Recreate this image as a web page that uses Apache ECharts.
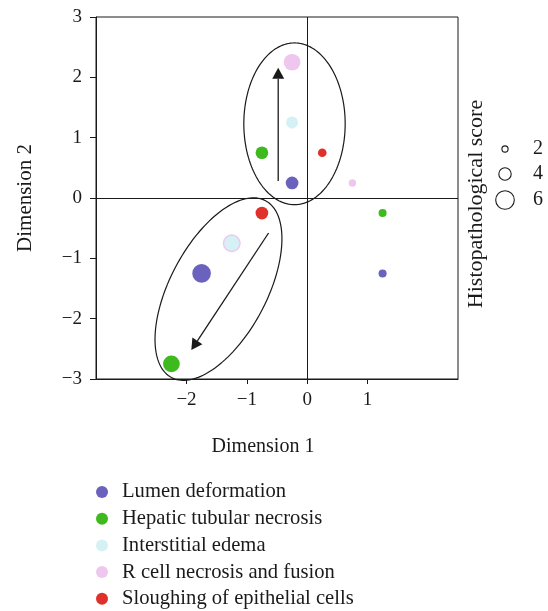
<!DOCTYPE html>
<html><head><meta charset="utf-8">
<script src="https://cdn.jsdelivr.net/npm/echarts@6/dist/echarts.min.js"></script>
<style>html,body{margin:0;padding:0;background:#fff}#c{width:548px;height:611px}</style>
</head><body><div id="c"></div>
<script>
// ---- data ----
const seriesNames = ['Lumen deformation','Hepatic tubular necrosis','Interstitial edema','R cell necrosis and fusion','Sloughing of epithelial cells'];
const seriesColors = ['#6a62bc','#3eb91e','#d6f1f5','#efc7ee','#e0302b'];
// [dimension1, dimension2, histopathological score]
const lumen     = [[-0.25, 0.25, 4.1], [-1.75, -1.25, 6.0], [1.25, -1.25, 2.6]];
const hepatic   = [[-0.75, 0.75, 4.1], [-2.25, -2.75, 5.4], [1.25, -0.25, 2.6]];
const edema     = [[-0.25, 1.25, 3.9], [-1.25, -0.75, 4.9]];
const rcell     = [[-0.25, 2.25, 5.4], [0.75, 0.25, 2.4], [-1.25, -0.75, 5.8]];
const sloughing = [[0.25, 0.75, 2.8], [-0.75, -0.25, 4.1]];
const xTicks = [-2, -1, 0, 1];
const yTicks = [-3, -2, -1, 0, 1, 2, 3];
const sizeLegendScores = [2, 4, 6];
// [centerX, centerY, semiAxisA, semiAxisB, angleDeg]
const clusterEllipses = [[-0.21, 1.23, 0.84, 1.34, 0], [-1.47, -1.51, 1.66, 0.80, 62]];
// [fromX, fromY, toX, toY]
const trendArrows = [[-0.48, 0.28, -0.48, 2.16], [-0.64, -0.58, -1.92, -2.52]];

// ---- chart ----
const FONT = '"Liberation Serif", "Times New Roman", serif';
const INK = '#1a1a1a';
const sizeFn = s => s * 3.1;
const fmt = v => String(v).replace('-', '\u2212');

function renderEllipse(params, api) {
  const cx = api.value(0), cy = api.value(1), a = api.value(2), b = api.value(3), ang = api.value(4) * Math.PI / 180;
  const pts = [];
  for (let i = 0; i < 160; i++) {
    const t = i / 160 * 2 * Math.PI;
    const ex = a * Math.cos(t), ey = b * Math.sin(t);
    pts.push(api.coord([cx + ex * Math.cos(ang) - ey * Math.sin(ang), cy + ex * Math.sin(ang) + ey * Math.cos(ang)]));
  }
  return { type: 'polygon', shape: { points: pts }, style: { fill: 'none', stroke: INK, lineWidth: 1.2 }, silent: true };
}
function renderArrow(params, api) {
  const p1 = api.coord([api.value(0), api.value(1)]), p2 = api.coord([api.value(2), api.value(3)]);
  const dx = p2[0] - p1[0], dy = p2[1] - p1[1], L = Math.hypot(dx, dy), ux = dx / L, uy = dy / L;
  const hl = 11, hw = 6;
  const bx = p2[0] - ux * hl, by = p2[1] - uy * hl;
  return { type: 'group', silent: true, children: [
    { type: 'line', shape: { x1: p1[0], y1: p1[1], x2: bx, y2: by }, style: { stroke: INK, lineWidth: 1.3 } },
    { type: 'polygon', shape: { points: [[p2[0], p2[1]], [bx - uy * hw, by + ux * hw], [bx + uy * hw, by - ux * hw]] }, style: { fill: INK } }
  ]};
}

const allData = [lumen, hepatic, edema, rcell, sloughing];
const scatterSeries = allData.map((d, i) => ({
  name: seriesNames[i], type: 'scatter', data: d,
  symbolSize: v => sizeFn(v[2]),
  itemStyle: { color: seriesColors[i], opacity: 1 },
  z: i === 3 ? 2 : 3,
  emphasis: { disabled: true }
}));
scatterSeries[0].markLine = {
  silent: true, symbol: ['none', 'none'], label: { show: false }, animation: false,
  lineStyle: { color: INK, type: 'solid', width: 1 },
  data: [{ xAxis: 0 }, { yAxis: 0 }]
};

const chart = echarts.init(document.getElementById('c'), null, { renderer: 'canvas' });
const sizeLegendX = 505, sizeLegendY = [149, 174, 200];
const graphics = [
  { type: 'text', x: 476, y: 204, rotation: Math.PI / 2,
    style: { text: 'Histopathological score', font: '22px ' + FONT, fill: INK, textAlign: 'center', textVerticalAlign: 'middle' } }
];
sizeLegendScores.forEach((s, i) => {
  graphics.push({ type: 'circle', shape: { cx: sizeLegendX, cy: sizeLegendY[i], r: sizeFn(s) / 2 }, style: { fill: 'none', stroke: INK, lineWidth: 1.1 } });
  graphics.push({ type: 'text', x: 538, y: sizeLegendY[i], style: { text: String(s), font: '20px ' + FONT, fill: INK, textAlign: 'center', textVerticalAlign: 'middle' } });
});

chart.setOption({
  animation: false,
  backgroundColor: '#fff',
  grid: { left: 96, top: 17, width: 362, height: 362, show: true, borderColor: INK, borderWidth: 1 },
  xAxis: {
    type: 'value', min: -3.5, max: 2.5, interval: 0.5,
    splitLine: { show: false },
    axisLine: { show: true, onZero: false, lineStyle: { color: INK } },
    axisTick: { show: true, customValues: xTicks, length: 5, lineStyle: { color: INK } },
    axisLabel: { customValues: xTicks, formatter: fmt, fontFamily: FONT, fontSize: 19, color: INK, margin: 12 },
    name: 'Dimension 1', nameLocation: 'middle', nameGap: 58,
    nameTextStyle: { fontFamily: FONT, fontSize: 20, color: INK, padding: [0, 28, 0, 0] }
  },
  yAxis: {
    type: 'value', min: -3, max: 3, interval: 1,
    splitLine: { show: false },
    axisLine: { show: true, onZero: false, lineStyle: { color: INK } },
    axisTick: { show: true, length: 6, lineStyle: { color: INK } },
    axisLabel: { formatter: fmt, fontFamily: FONT, fontSize: 19, color: INK, margin: 14 },
    name: 'Dimension 2', nameLocation: 'middle', nameGap: 60,
    nameTextStyle: { fontFamily: FONT, fontSize: 21, color: INK }
  },
  legend: {
    data: seriesNames, orient: 'vertical', left: 96, top: 481.5, height: 140, padding: 0,
    icon: 'circle', itemWidth: 30, itemHeight: 12, itemGap: 5.7,
    textStyle: { fontFamily: FONT, fontSize: 20.6, color: INK, lineHeight: 20 },
    selectedMode: false
  },
  graphic: graphics,
  series: [
    { type: 'custom', name: 'ellipses', data: clusterEllipses, renderItem: renderEllipse, clip: false, z: 4, silent: true },
    { type: 'custom', name: 'arrows', data: trendArrows, renderItem: renderArrow, clip: false, z: 4, silent: true },
    ...scatterSeries
  ]
});
</script></body></html>
